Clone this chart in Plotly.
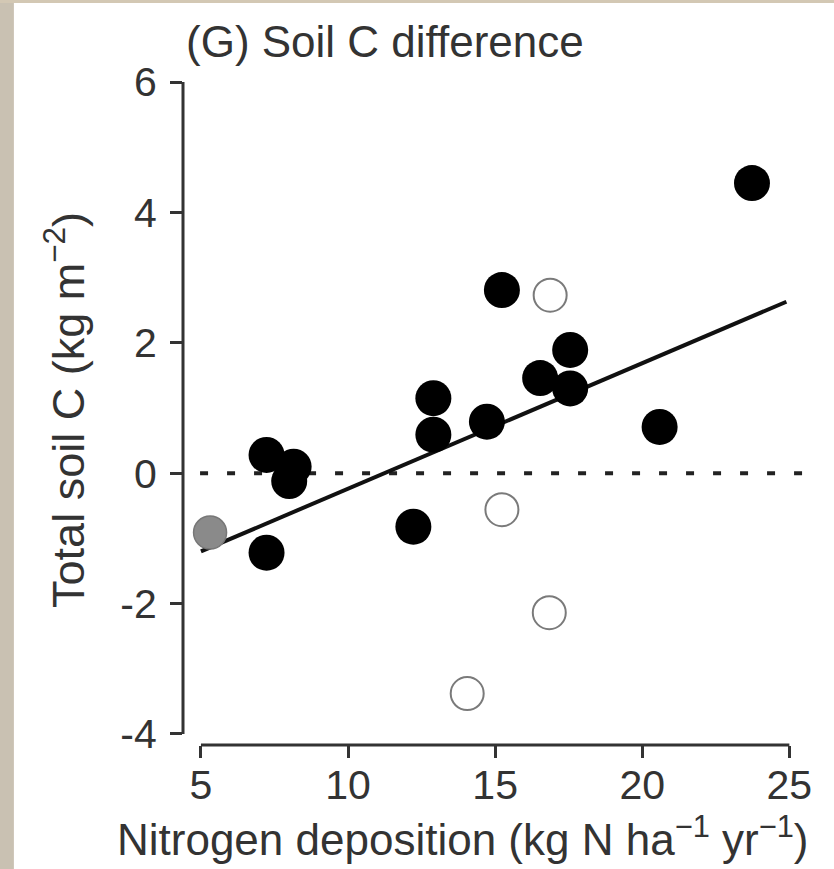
import plotly.graph_objects as go

# ---- data ----
closed_x = [7.23, 7.23, 8.15, 8.0, 12.22, 12.9, 12.9, 14.72, 15.23, 16.53, 17.55, 17.55, 20.59, 23.73]
closed_y = [-1.22, 0.28, 0.10, -0.12, -0.82, 1.15, 0.59, 0.79, 2.81, 1.46, 1.89, 1.30, 0.71, 4.45]
open_x = [16.87, 15.23, 16.84, 14.05]
open_y = [2.73, -0.56, -2.14, -3.38]
gray_x = [5.31]
gray_y = [-0.91]
trend_x = [5.0, 24.9]
trend_y = [-1.20, 2.63]
zero_x = [4.97, 25.6]
zero_y = [0, 0]
x_ticks = [5, 10, 15, 20, 25]
x_labels = ["5", "10", "15", "20", "25"]
y_ticks = [-4, -2, 0, 2, 4, 6]
y_labels = ["-4", "-2", "0", "2", "4", "6"]
x_range = [4.39, 25.6]
y_range = [-4.169, 6.2]

W, H = 834, 869
L, R, T, B = 183, 27.4, 69, 124
pw = W - L - R
ph = H - T - B


def px_x(px):
    return (px - L) / pw


def px_y(py):
    return (H - B - py) / ph


TXT = "#333333"
FONT = "Liberation Sans, Arial, sans-serif"

fig = go.Figure()

fig.add_trace(go.Scatter(x=zero_x, y=zero_y, mode="lines",
                         line=dict(color="#222222", width=4, dash="8px,19px"),
                         hoverinfo="skip", showlegend=False))
fig.add_trace(go.Scatter(x=trend_x, y=trend_y, mode="lines",
                         line=dict(color="#111111", width=4),
                         showlegend=False))
fig.add_trace(go.Scatter(x=gray_x, y=gray_y, mode="markers",
                         marker=dict(size=33, color="#8a8a8a", line=dict(color="#777777", width=1.5)),
                         showlegend=False))
fig.add_trace(go.Scatter(x=open_x, y=open_y, mode="markers",
                         marker=dict(size=33, color="rgba(255,255,255,0)", line=dict(color="#7a7a7a", width=2)),
                         showlegend=False))
fig.add_trace(go.Scatter(x=closed_x, y=closed_y, mode="markers",
                         marker=dict(size=36, color="#000000", line=dict(width=0)),
                         showlegend=False))

shapes = [
    # R-style axis lines
    dict(type="line", xref="paper", yref="y", x0=0, x1=0, y0=y_ticks[0], y1=y_ticks[-1],
         line=dict(color="#333333", width=3)),
    dict(type="line", xref="x", yref="paper", x0=x_ticks[0], x1=x_ticks[-1], y0=0, y1=0,
         line=dict(color="#333333", width=3)),
    # beige photo border strips
    dict(type="rect", xref="paper", yref="paper", x0=px_x(0), x1=px_x(14), y0=px_y(H), y1=px_y(0),
         fillcolor="#c9c1b2", line=dict(width=0), layer="below"),
    dict(type="rect", xref="paper", yref="paper", x0=px_x(0), x1=px_x(W), y0=px_y(3), y1=px_y(0),
         fillcolor="#d3c8b4", line=dict(width=0), layer="below"),
]

annotations = [
    dict(text="(G) Soil C difference", xref="paper", yref="paper", x=px_x(184), y=px_y(41),
         xanchor="left", yanchor="middle", showarrow=False, font=dict(size=44, color=TXT, family=FONT)),
    dict(text="Nitrogen deposition (kg N ha<sup>\u22121</sup> yr<sup>\u22121</sup>)", xref="paper", yref="paper",
         x=px_x(115), y=px_y(836), xanchor="left", yanchor="middle", showarrow=False,
         font=dict(size=44, color=TXT, family=FONT)),
    dict(text="Total soil C (kg m<sup>\u22122</sup>)", xref="paper", yref="paper",
         x=px_x(65), y=px_y(410), xanchor="center", yanchor="middle", textangle=-90, showarrow=False,
         font=dict(size=45, color=TXT, family=FONT)),
]

fig.update_layout(
    width=W, height=H,
    margin=dict(l=L, r=R, t=T, b=B),
    paper_bgcolor="white", plot_bgcolor="white",
    showlegend=False,
    shapes=shapes, annotations=annotations,
    xaxis=dict(range=x_range, tickvals=x_ticks, ticktext=x_labels, ticks="outside", ticklen=12, tickwidth=3,
               tickcolor="#333333", showgrid=False, zeroline=False, showline=False,
               tickfont=dict(size=41, color=TXT, family=FONT), ticklabelstandoff=-8),
    yaxis=dict(range=y_range, tickvals=y_ticks, ticktext=y_labels, ticks="outside", ticklen=12, tickwidth=3,
               tickcolor="#333333", showgrid=False, zeroline=False, showline=False,
               tickfont=dict(size=41, color=TXT, family=FONT), ticklabelstandoff=5),
)

fig.write_html("out.html")
